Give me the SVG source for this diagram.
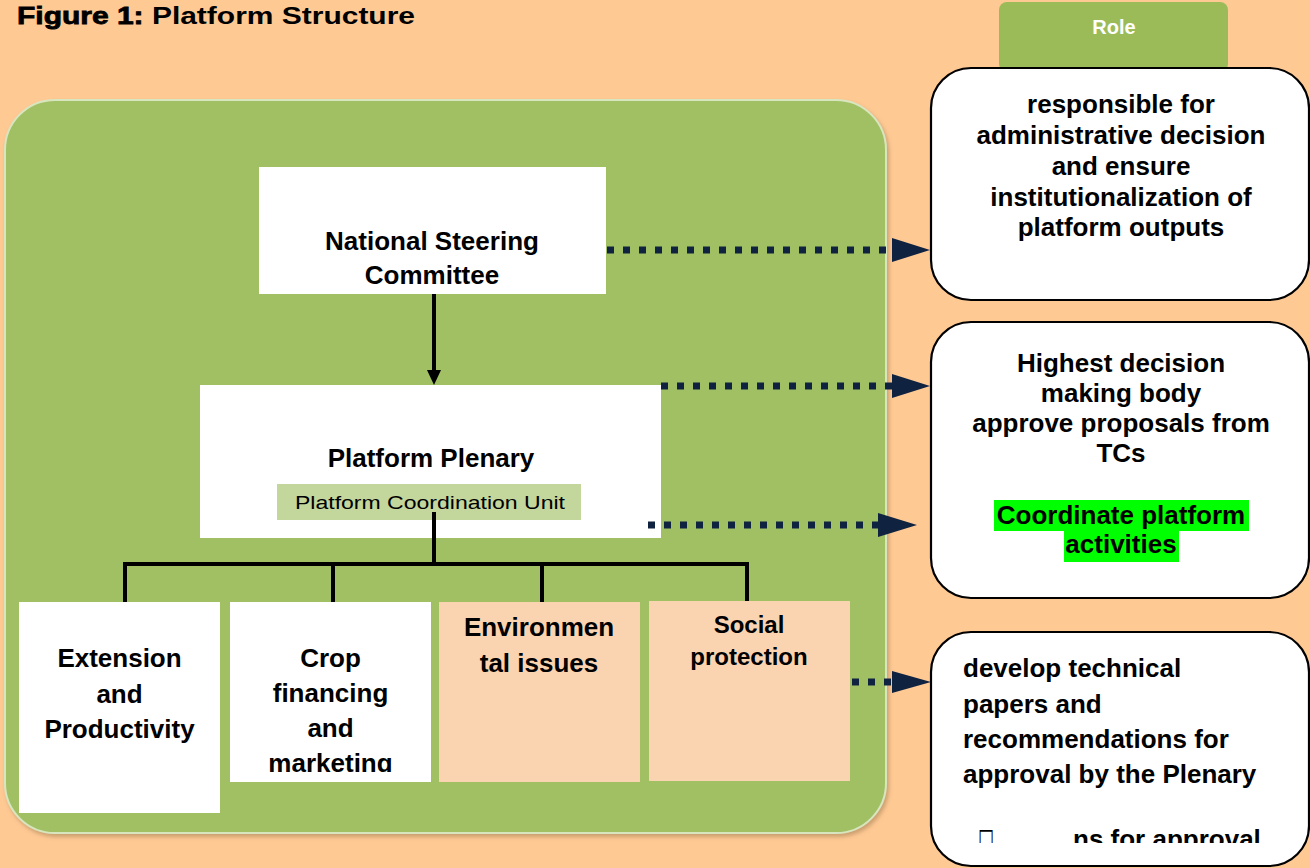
<svg xmlns="http://www.w3.org/2000/svg" width="1310" height="868" viewBox="0 0 1310 868">
  <defs>
    <style>
      .bold { font-family: "Liberation Sans", Arial, sans-serif; font-weight: bold; fill: #000; }
      .reg { font-family: "Liberation Sans", Arial, sans-serif; font-weight: normal; fill: #000; }
      .mid { text-anchor: middle; }
      .t26 { font-size: 26px; }
      .box { fill: #ffffff; }
      .peach { fill: #fad3b1; }
      .role { fill: #ffffff; stroke: #000; stroke-width: 2.2; }
      .tree { stroke: #000; stroke-width: 4; fill: none; }
      .dots { stroke: #0f2340; stroke-width: 7; stroke-dasharray: 7 9; fill: none; }
      .head { fill: #0f2340; }
      .hl { fill: #00ff00; }
    </style>
    <filter id="shadow" x="-5%" y="-5%" width="110%" height="110%">
      <feDropShadow dx="2" dy="3" stdDeviation="2" flood-color="#8a6a40" flood-opacity="0.45"/>
    </filter>
    <clipPath id="clipCrop">
      <rect x="230" y="602" width="201" height="170"/>
    </clipPath>
    <clipPath id="clipTc">
      <rect x="931" y="632" width="379" height="211"/>
    </clipPath>
  </defs>

  <!-- page background -->
  <rect x="0" y="0" width="1310" height="868" fill="#ffc994"/>

  <!-- title -->
  <text class="bold" x="17" y="24" font-size="24.5" textLength="398" lengthAdjust="spacingAndGlyphs"><tspan stroke="#000" stroke-width="0.8">Figure 1:</tspan> Platform Structure</text>

  <!-- platform container -->
  <g id="platform">
    <rect x="5" y="100" width="881" height="733" rx="50" ry="50" fill="#a1c064" stroke="#d8e6bf" stroke-width="2" filter="url(#shadow)"/>
  </g>

  <!-- National Steering Committee -->
  <g id="nsc">
    <rect class="box" x="259" y="167" width="347" height="127"/>
    <text class="bold mid t26" x="432" y="250">National Steering</text>
    <text class="bold mid t26" x="432" y="284">Committee</text>
  </g>

  <!-- Platform Plenary with coordination unit -->
  <g id="plenary">
    <rect class="box" x="200" y="385" width="461" height="153"/>
    <text class="bold mid t26" x="431" y="467">Platform Plenary</text>
    <rect x="277" y="484" width="304" height="36" fill="#c3d69b"/>
    <text class="reg" x="295" y="509" font-size="18.5" textLength="270" lengthAdjust="spacingAndGlyphs">Platform Coordination Unit</text>
  </g>

  <!-- technical committees -->
  <g id="tc-extension">
    <rect class="box" x="19" y="602" width="201" height="211"/>
    <text class="bold mid t26" x="119.5" y="667">Extension</text>
    <text class="bold mid t26" x="119.5" y="703">and</text>
    <text class="bold mid t26" x="119.5" y="738">Productivity</text>
  </g>

  <g id="tc-crop">
    <rect class="box" x="230" y="602" width="201" height="180"/>
    <g clip-path="url(#clipCrop)">
      <text class="bold mid t26" x="330.5" y="667">Crop</text>
      <text class="bold mid t26" x="330.5" y="702">financing</text>
      <text class="bold mid t26" x="330.5" y="737">and</text>
      <text class="bold mid t26" x="330.5" y="772">marketing</text>
    </g>
  </g>

  <g id="tc-environment">
    <rect class="peach" x="439" y="602" width="201" height="180"/>
    <text class="bold mid t26" x="539" y="636">Environmen</text>
    <text class="bold mid t26" x="539" y="672">tal issues</text>
  </g>

  <g id="tc-social">
    <rect class="peach" x="649" y="601" width="201" height="180"/>
    <text class="bold mid" x="749" y="633" font-size="24">Social</text>
    <text class="bold mid" x="749" y="665" font-size="24">protection</text>
  </g>

  <!-- role header -->
  <g id="role-header">
    <rect x="999" y="2" width="229" height="70" rx="8" ry="8" fill="#9bbb59"/>
    <text class="bold mid" x="1114" y="34" font-size="20" style="fill:#ffffff">Role</text>
  </g>

  <!-- role descriptions -->
  <g id="role-nsc">
    <rect class="role" x="931" y="68" width="378" height="232" rx="40" ry="40"/>
    <text class="bold mid t26" x="1121" y="113">responsible for</text>
    <text class="bold mid t26" x="1121" y="144">administrative decision</text>
    <text class="bold mid t26" x="1121" y="175">and ensure</text>
    <text class="bold mid t26" x="1121" y="206">institutionalization of</text>
    <text class="bold mid t26" x="1121" y="236">platform outputs</text>
  </g>

  <g id="role-plenary">
    <rect class="role" x="931" y="322" width="378" height="276" rx="40" ry="40"/>
    <text class="bold mid t26" x="1121" y="372">Highest decision</text>
    <text class="bold mid t26" x="1121" y="402">making body</text>
    <text class="bold mid t26" x="1121" y="432">approve proposals from</text>
    <text class="bold mid t26" x="1121" y="462">TCs</text>
    <rect class="hl" x="994" y="500" width="255" height="31"/>
    <rect class="hl" x="1064" y="531" width="115" height="31"/>
    <text class="bold mid t26" x="1121" y="524">Coordinate platform</text>
    <text class="bold mid t26" x="1121" y="553">activities</text>
  </g>

  <g id="role-tc">
    <rect class="role" x="931" y="632" width="378" height="234" rx="40" ry="40"/>
    <text class="bold t26" x="963" y="677">develop technical</text>
    <text class="bold t26" x="963" y="713">papers and</text>
    <text class="bold t26" x="963" y="748">recommendations for</text>
    <text class="bold t26" x="963" y="783">approval by the Plenary</text>
    <g clip-path="url(#clipTc)">
      <text x="978" y="850" font-family="'DejaVu Sans', sans-serif" font-size="31" textLength="16" lengthAdjust="spacingAndGlyphs">□</text>
      <text class="bold t26" x="1073" y="848">ns for approval</text>
    </g>
  </g>

  <!-- connectors -->
  <g id="connectors">
    <!-- steering committee to plenary -->
    <line class="tree" x1="434" y1="294" x2="434" y2="372" stroke-width="3.5"/>
    <polygon points="427,370 441,370 434,385" fill="#000"/>

    <!-- plenary to technical committees -->
    <line class="tree" x1="434" y1="512" x2="434" y2="564"/>
    <line class="tree" x1="123" y1="564" x2="749" y2="564"/>
    <line class="tree" x1="125" y1="562" x2="125" y2="602"/>
    <line class="tree" x1="333" y1="562" x2="333" y2="602"/>
    <line class="tree" x1="542" y1="562" x2="542" y2="602"/>
    <line class="tree" x1="747" y1="562" x2="747" y2="601"/>

    <!-- dotted links to role descriptions -->
    <line class="dots" x1="607" y1="250" x2="892" y2="250"/>
    <polygon class="head" points="892,238 892,262 930,250"/>

    <line class="dots" x1="661" y1="386" x2="892" y2="386"/>
    <polygon class="head" points="892,374 892,398 930,386"/>

    <line class="dots" x1="648" y1="525" x2="878" y2="525"/>
    <polygon class="head" points="878,513 878,537 917,525"/>

    <line class="dots" x1="852" y1="682" x2="892" y2="682"/>
    <polygon class="head" points="892,671 892,693 931,682"/>
  </g>
</svg>
